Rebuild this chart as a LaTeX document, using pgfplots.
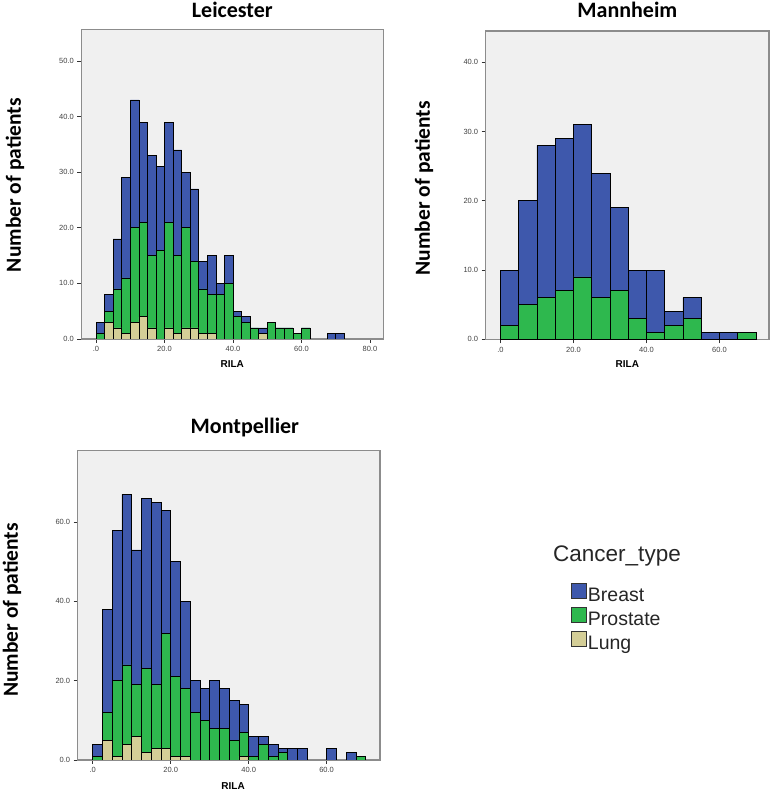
\documentclass[border=0pt]{standalone}
\usepackage{pgfplots}
\pgfplotsset{compat=1.18}
\usepackage{fontspec}
\setmainfont{Liberation Sans}
\newfontfamily\carlito{Carlito}
\definecolor{cBreast}{RGB}{62,88,172}
\definecolor{cProstate}{RGB}{46,184,78}
\definecolor{cLung}{RGB}{212,206,151}
\definecolor{bgGray}{RGB}{240,240,240}
\definecolor{frameGray}{RGB}{140,140,140}
\pgfplotsset{
  spssaxis/.style={
    scale only axis,
    anchor=south west,
    axis background/.style={fill=bgGray},
    axis line style={frameGray, line width=1.2pt},
    tick align=outside,
    xtick pos=bottom, ytick pos=left,
    major tick length=4pt,
    tick style={black!80, line width=0.8pt},
    ticklabel style={font=\fontsize{7.5}{8}\selectfont, text=black!75},
    /pgf/number format/assume math mode=true,
    ymin=0,
    title style={font=\carlito\bfseries\fontsize{22}{24}\selectfont, anchor=base},
    ylabel style={font=\carlito\bfseries\fontsize{21.5}{24}\selectfont, anchor=center},
    xlabel style={font=\bfseries\fontsize{10}{12}\selectfont, anchor=center},
    ylabel={Number of patients},
    xlabel={RILA},
  },
  barsty/.style={ybar, bar width=#1, bar shift=0pt, draw=black, line width=0.6pt},
}
\begin{document}
\begin{tikzpicture}
\path[use as bounding box] (0pt,0pt) rectangle (772pt,793pt);

% ---------------- Leicester ----------------
\begin{axis}[spssaxis,
  at={(81.3pt,454pt)}, width=302pt, height=309.7pt,
  xmin=-4.3, xmax=83.9, ymax=55.7,
  xtick={0,20,40,60,80}, xticklabels={.0,20.0,40.0,60.0,80.0},
  ytick={0,10,20,30,40,50}, yticklabels={0.0,10.0,20.0,30.0,40.0,50.0},
  title={Leicester},
  title style={at={(axis description cs:0.5,1.0186)}},
  ylabel style={at={(axis description cs:-0.2195,0.497)}},
  xlabel style={at={(axis description cs:0.5,-0.0807)}},
]
\addplot[barsty=2.5, fill=cBreast] coordinates {
 (1.25,3) (3.75,8) (6.25,18) (8.75,29) (11.25,43) (13.75,39) (16.25,33) (18.75,31)
 (21.25,39) (23.75,34) (26.25,30) (28.75,27) (31.25,14) (33.75,15) (36.25,10) (38.75,15)
 (41.25,5) (43.75,4) (46.25,2) (48.75,2) (51.25,3) (53.75,2) (56.25,2) (58.75,1)
 (61.25,2) (68.75,1) (71.25,1)};
\addplot[barsty=2.5, fill=cProstate] coordinates {
 (1.25,1) (3.75,5) (6.25,9) (8.75,11) (11.25,20) (13.75,21) (16.25,15) (18.75,16)
 (21.25,21) (23.75,15) (26.25,20) (28.75,14) (31.25,9) (33.75,8) (36.25,8) (38.75,10)
 (41.25,4) (43.75,3) (46.25,2) (51.25,3) (53.75,2) (56.25,2) (58.75,1) (61.25,2)};
\addplot[barsty=2.5, fill=cLung] coordinates {
 (3.75,3) (6.25,2) (8.75,1) (11.25,3) (13.75,4) (16.25,2) (21.25,2) (23.75,1)
 (26.25,2) (28.75,2) (31.25,1) (33.75,1) (48.75,1)};
\end{axis}

% ---------------- Mannheim ----------------
\begin{axis}[spssaxis,
  at={(485.7pt,453.7pt)}, width=283.3pt, height=308.3pt,
  xmin=-4.05, xmax=73.6, ymax=44.5,
  xtick={0,20,40,60}, xticklabels={.0,20.0,40.0,60.0},
  ytick={0,10,20,30,40}, yticklabels={0.0,10.0,20.0,30.0,40.0},
  title={Mannheim},
  title style={at={(axis description cs:0.5,1.0243)}},
  ylabel style={at={(axis description cs:-0.218,0.49)}},
  xlabel style={at={(axis description cs:0.5,-0.080)}},
]
\addplot[barsty=5, fill=cBreast] coordinates {
 (2.5,10) (7.5,20) (12.5,28) (17.5,29) (22.5,31) (27.5,24) (32.5,19) (37.5,10)
 (42.5,10) (47.5,4) (52.5,6) (57.5,1) (62.5,1) (67.5,1)};
\addplot[barsty=5, fill=cProstate] coordinates {
 (2.5,2) (7.5,5) (12.5,6) (17.5,7) (22.5,9) (27.5,6) (32.5,7) (37.5,3)
 (42.5,1) (47.5,2) (52.5,3) (67.5,1)};
\end{axis}

% ---------------- Montpellier ----------------
\begin{axis}[spssaxis,
  at={(77.7pt,33pt)}, width=302.3pt, height=309.3pt,
  xmin=-3.85, xmax=73.7, ymax=78,
  xtick={0,20,40,60}, xticklabels={.0,20.0,40.0,60.0},
  ytick={0,20,40,60}, yticklabels={0.0,20.0,40.0,60.0},
  title={Montpellier},
  title style={at={(axis description cs:0.553,1.0362)}},
  ylabel style={at={(axis description cs:-0.217,0.485)}},
  xlabel style={at={(axis description cs:0.514,-0.084)}},
  legend style={draw=none, fill=none, at={(axis description cs:1.632,0.572)},
    anchor=north west, inner sep=0pt, outer sep=0pt,
    font=\fontsize{19.5}{20}\selectfont, text=black!85, row sep=0.5pt,
    nodes={inner sep=1pt, text height=14pt, text depth=4pt},
    /tikz/every even column/.style={column sep=3.5pt}},
  legend cell align=left,
  legend image code/.code={\draw[#1, draw=black!80, line width=0.9pt] (0pt,-2pt) rectangle (15pt,13pt);},
]
\addplot[barsty=2.5, fill=cBreast] coordinates {
 (1.25,4) (3.75,38) (6.25,58) (8.75,67) (11.25,53) (13.75,66) (16.25,65) (18.75,63)
 (21.25,50) (23.75,40) (26.25,20) (28.75,18) (31.25,20) (33.75,18) (36.25,15) (38.75,14)
 (41.25,6) (43.75,6) (46.25,4) (48.75,3) (51.25,3) (53.75,3) (61.25,3) (66.25,2) (68.75,1)};
\addlegendentry{Breast}
\addplot[barsty=2.5, fill=cProstate] coordinates {
 (1.25,1) (3.75,12) (6.25,20) (8.75,24) (11.25,19) (13.75,23) (16.25,19) (18.75,32)
 (21.25,21) (23.75,18) (26.25,12) (28.75,10) (31.25,8) (33.75,8) (36.25,5) (38.75,7)
 (41.25,1) (43.75,4) (46.25,1) (48.75,2) (68.75,1)};
\addlegendentry{Prostate}
\addplot[barsty=2.5, fill=cLung] coordinates {
 (3.75,5) (6.25,1) (8.75,4) (11.25,6) (13.75,2) (16.25,3) (18.75,3) (21.25,1)
 (23.75,1) (38.75,1)};
\addlegendentry{Lung}
\end{axis}

\node[font=\fontsize{22.5}{24}\selectfont, text=black!85, inner sep=0pt] at (617pt,237pt) {Cancer\_type};
\end{tikzpicture}
\end{document}
